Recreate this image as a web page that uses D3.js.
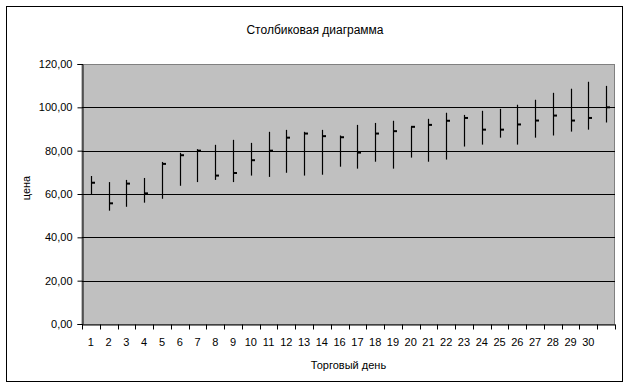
<!DOCTYPE html>
<html>
<head>
<meta charset="utf-8">
<script src="https://cdn.jsdelivr.net/npm/d3@7"></script>
<style>
  body { margin: 0; background: #fff; }
  text { font-family: "Liberation Sans", Arial, sans-serif; fill: #000; }
</style>
</head>
<body>
<div id="chart"></div>
<script>
// trading day labels (day 15 is missing in the source, last slot is empty)
var days = ["1","2","3","4","5","6","7","8","9","10","11","12","13","14",
  "16","17","18","19","20","21","22","23","24","25","26","27","28","29","30",""];
var high = [68.3, 65.5, 66.5, 67.4, 74.8, 79.0, 80.7, 82.7, 85.0, 83.6,
  88.7, 89.6, 88.7, 89.6, 87.0, 91.9, 92.8, 93.8, 91.0, 94.7,
  97.5, 96.5, 98.4, 99.3, 101.2, 103.5, 106.7, 108.6, 111.8, 109.9];
var low = [60.0, 52.3, 54.1, 56.0, 57.8, 63.8, 65.5, 66.5, 65.5, 68.5,
  67.9, 69.8, 68.5, 68.9, 72.6, 71.7, 74.9, 71.7, 76.8, 74.9,
  75.9, 81.9, 82.8, 86.0, 82.8, 86.0, 87.0, 88.8, 89.7, 93.0];
var close = [65.2, 55.7, 64.8, 60.3, 73.9, 77.9, 80.0, 68.5, 69.7, 75.6,
  80.0, 86.0, 87.9, 86.7, 86.2, 79.1, 87.9, 89.0, 91.0, 91.9,
  93.8, 95.1, 89.7, 89.7, 92.1, 93.9, 96.2, 93.9, 95.1, 100.0];
var yTicks = [0, 20, 40, 60, 80, 100, 120];

var width = 629, height = 388;
var margin = {top: 64, right: 14, bottom: 64, left: 82};
var w = width - margin.left - margin.right,
    h = height - margin.top - margin.bottom;

var svg = d3.select("#chart").append("svg")
    .attr("width", width)
    .attr("height", height);

// outer chart border
svg.append("rect")
    .attr("x", 6.5).attr("y", 6.5)
    .attr("width", 616).attr("height", 375)
    .attr("fill", "#fff").attr("stroke", "#000").attr("stroke-width", 1);

svg.append("text")
    .attr("x", 315).attr("y", 34)
    .attr("text-anchor", "middle")
    .style("font-size", "12px")
    .text("Столбиковая диаграмма");

var g = svg.append("g")
    .attr("transform", "translate(" + margin.left + "," + margin.top + ")");

var x = d3.scaleBand().domain(d3.range(days.length)).range([0, w]).padding(0);
var y = d3.scaleLinear().domain([0, 120]).range([h, 0]);

// plot area
g.append("rect")
    .attr("x", 0).attr("y", 0.5)
    .attr("width", w - 0.5).attr("height", h)
    .attr("fill", "#c0c0c0").attr("stroke", "#808080");

// gridlines
g.selectAll(".grid")
    .data(yTicks.filter(function(d) { return d > 0 && d < 120; }))
    .enter().append("line")
    .attr("x1", 0).attr("x2", w)
    .attr("y1", function(d) { return Math.round(y(d)) + 0.5; })
    .attr("y2", function(d) { return Math.round(y(d)) + 0.5; })
    .attr("stroke", "#000");

// high-low lines
g.selectAll(".hl")
    .data(high)
    .enter().append("line")
    .attr("x1", function(d, i) { return Math.round(x(i) + x.bandwidth() / 2) + 0.5; })
    .attr("x2", function(d, i) { return Math.round(x(i) + x.bandwidth() / 2) + 0.5; })
    .attr("y1", function(d) { return y(d); })
    .attr("y2", function(d, i) { return y(low[i]); })
    .attr("stroke", "#000").attr("stroke-width", 1.2);

// close markers
g.selectAll(".cl")
    .data(close)
    .enter().append("line")
    .attr("x1", function(d, i) { return Math.round(x(i) + x.bandwidth() / 2); })
    .attr("x2", function(d, i) { return Math.round(x(i) + x.bandwidth() / 2) + 4; })
    .attr("y1", function(d) { return y(d); })
    .attr("y2", function(d) { return y(d); })
    .attr("stroke", "#000").attr("stroke-width", 2);

// y axis
var yAxis = d3.axisLeft(y)
    .tickValues(yTicks)
    .tickSize(5)
    .tickPadding(5)
    .tickFormat(function(d) { return d3.format(".2f")(d).replace(".", ","); });
var ya = g.append("g").attr("transform", "translate(0.5,0)").call(yAxis);
ya.select(".domain").attr("stroke", "#000");
ya.selectAll("text").style("font-size", "11px").attr("fill", "#000");
ya.selectAll(".tick line").attr("stroke", "#000");

// x axis
var xAxis = d3.axisBottom(x)
    .tickSize(0)
    .tickPadding(14)
    .tickFormat(function(i) { return days[i]; });
var xa = g.append("g").attr("transform", "translate(0," + (h + 0.5) + ")").call(xAxis);
xa.select(".domain").attr("stroke", "#000");
xa.selectAll("text").style("font-size", "11px").attr("fill", "#000");

// ticks between categories
xa.selectAll(".sep")
    .data(d3.range(days.length + 1))
    .enter().append("line")
    .attr("x1", function(i) { return Math.round(i * x.step()) + 0.5; })
    .attr("x2", function(i) { return Math.round(i * x.step()) + 0.5; })
    .attr("y1", 0).attr("y2", 5)
    .attr("stroke", "#000");

svg.append("text")
    .attr("x", margin.left + w / 2).attr("y", 369)
    .attr("text-anchor", "middle")
    .style("font-size", "11px")
    .text("Торговый день");

svg.append("text")
    .attr("transform", "translate(30,188) rotate(-90)")
    .attr("text-anchor", "middle")
    .style("font-size", "11px")
    .text("цена");
</script>
</body>
</html>
